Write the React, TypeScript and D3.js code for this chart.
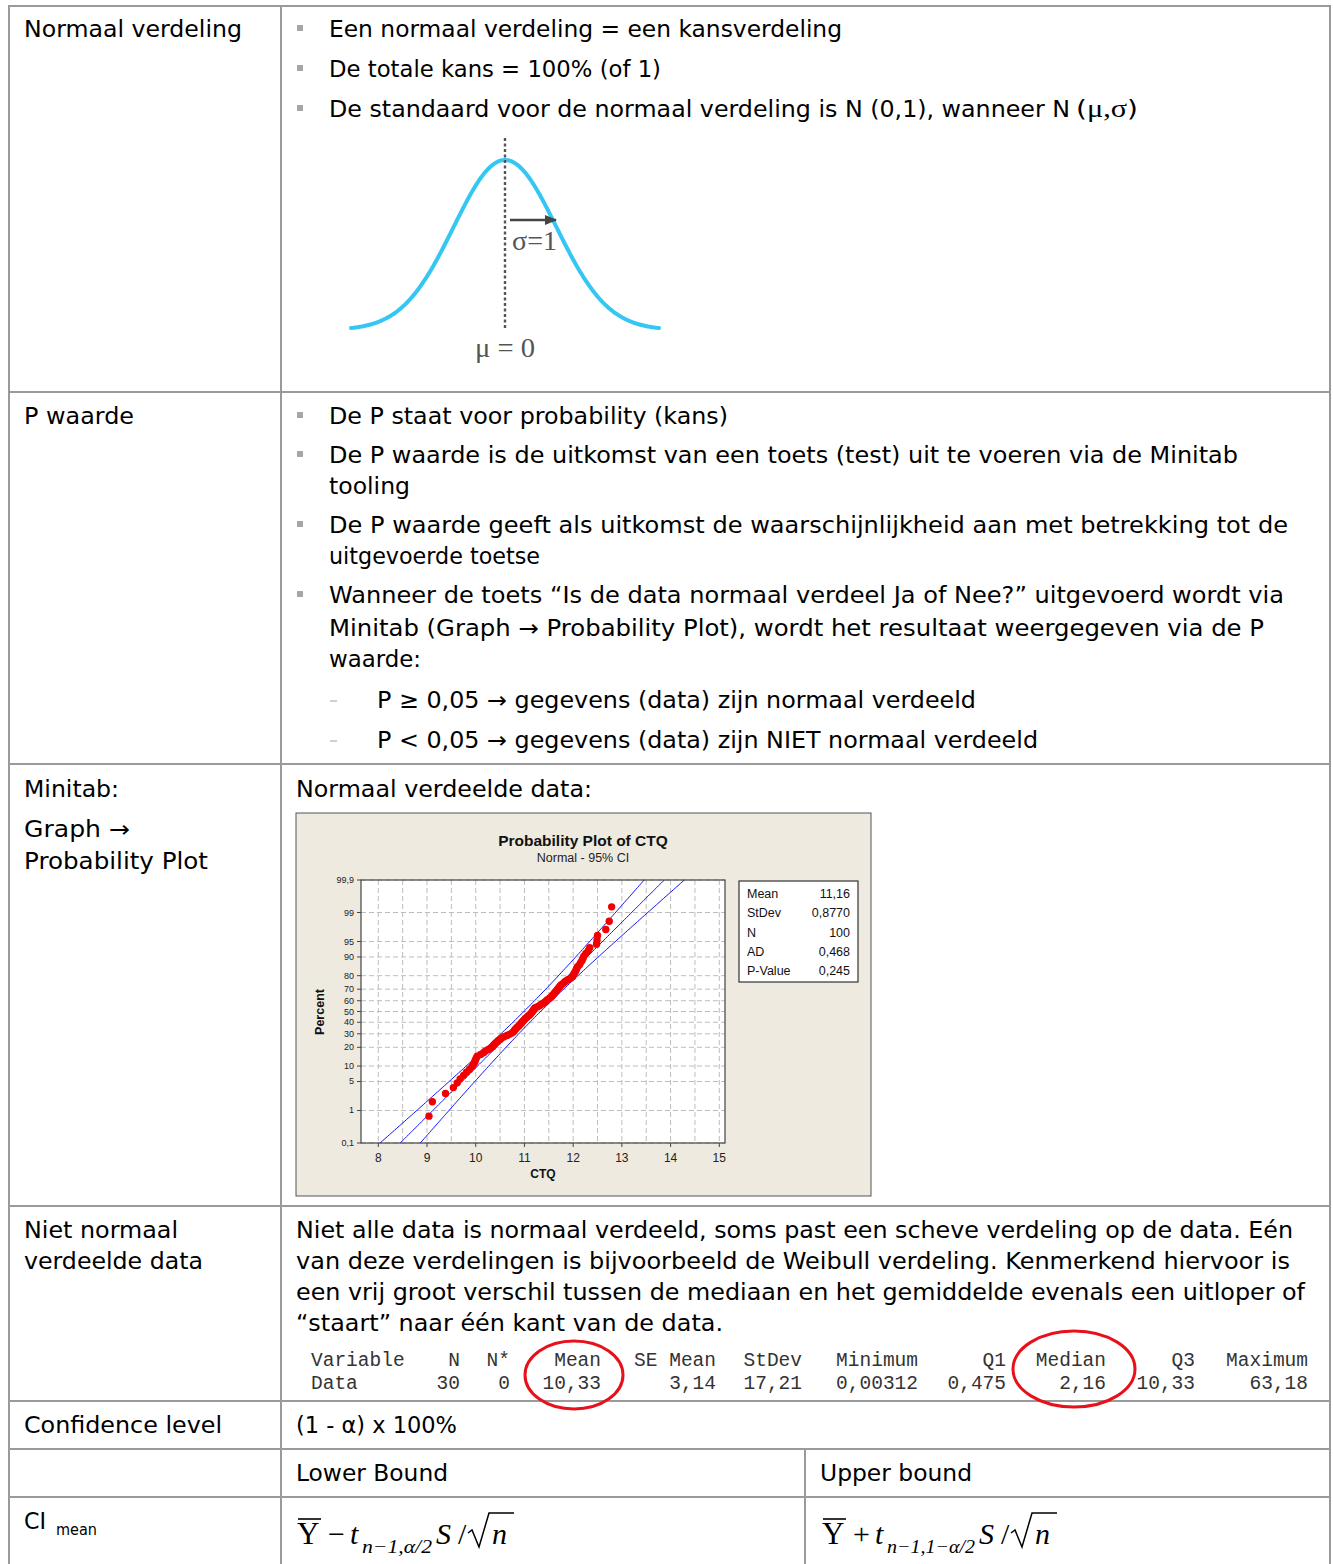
import React from 'react';
import * as d3 from 'd3';

// ---------------- DATA ----------------
const normalBullets = [
  'Een normaal verdeling = een kansverdeling',
  'De totale kans = 100% (of 1)',
  'De standaard voor de normaal verdeling is N (0,1), wanneer N',
];
const pBulletLines = [
  'De P staat voor probability (kans)',
  'De P waarde is de uitkomst van een toets (test) uit te voeren via de Minitab',
  'tooling',
  'De P waarde geeft als uitkomst de waarschijnlijkheid aan met betrekking tot de',
  'uitgevoerde toetse',
  'Wanneer de toets “Is de data normaal verdeel Ja of Nee?” uitgevoerd wordt via',
  'Minitab (Graph → Probability Plot), wordt het resultaat weergegeven via de P',
  'waarde:',
];
const pRules = [
  'P ≥ 0,05 → gegevens (data) zijn normaal verdeeld',
  'P < 0,05 → gegevens (data) zijn NIET normaal verdeeld',
];
const weibullText = [
  'Niet alle data is normaal verdeeld, soms past een scheve verdeling op de data. Eén',
  'van deze verdelingen is bijvoorbeeld de Weibull verdeling. Kenmerkend hiervoor is',
  'een vrij groot verschil tussen de mediaan en het gemiddelde evenals een uitloper of',
  '“staart” naar één kant van de data.',
];
const statHeaders = ['Variable', 'N', 'N*', 'Mean', 'SE Mean', 'StDev', 'Minimum', 'Q1', 'Median', 'Q3', 'Maximum'];
const statValues = ['Data', '30', '0', '10,33', '3,14', '17,21', '0,00312', '0,475', '2,16', '10,33', '63,18'];

// Probability plot (CTQ, sorted)
const ctqValues = [
  9.04, 9.11, 9.38, 9.54, 9.62, 9.68, 9.75, 9.81, 9.87, 9.92,
  9.95, 9.98, 9.99, 10.01, 10.03, 10.10, 10.16, 10.20, 10.26, 10.31,
  10.35, 10.37, 10.40, 10.43, 10.46, 10.50, 10.53, 10.58, 10.64, 10.69,
  10.74, 10.77, 10.79, 10.81, 10.83, 10.85, 10.88, 10.90, 10.92, 10.94,
  10.96, 10.98, 11.00, 11.02, 11.05, 11.07, 11.10, 11.12, 11.14, 11.16,
  11.17, 11.19, 11.20, 11.22, 11.27, 11.31, 11.34, 11.38, 11.41, 11.44,
  11.46, 11.49, 11.52, 11.55, 11.57, 11.59, 11.61, 11.63, 11.65, 11.67,
  11.69, 11.71, 11.73, 11.75, 11.79, 11.82, 11.85, 11.90, 11.95, 11.99,
  12.00, 12.02, 12.04, 12.06, 12.07, 12.09, 12.13, 12.15, 12.18, 12.20,
  12.22, 12.26, 12.31, 12.34, 12.48, 12.49, 12.50, 12.67, 12.74, 12.79,
];
const fitMean = 11.16;
const fitStDev = 0.877;
const fitN = 100;
const legendLabels = ['Mean', 'StDev', 'N', 'AD', 'P-Value'];
const legendValues = ['11,16', '0,8770', '100', '0,468', '0,245'];
const xTicks = [8, 9, 10, 11, 12, 13, 14, 15];
const xGrid = [8, 8.5, 9, 9.5, 10, 10.5, 11, 11.5, 12, 12.5, 13, 13.5, 14, 14.5, 15];
const yTickPercents = [0.1, 1, 5, 10, 20, 30, 40, 50, 60, 70, 80, 90, 95, 99, 99.9];

// ---------------- HELPERS ----------------
function probit(p: number): number {
  const a = [-3.969683028665376e1, 2.209460984245205e2, -2.759285104469687e2, 1.38357751867269e2, -3.066479806614716e1, 2.506628277459239];
  const b = [-5.447609879822406e1, 1.615858368580409e2, -1.556989798598866e2, 6.680131188771972e1, -1.328068155288572e1];
  const c = [-7.784894002430293e-3, -3.223964580411365e-1, -2.400758277161838, -2.549732539343734, 4.374664141464968, 2.938163982698783];
  const d = [7.784695709041462e-3, 3.224671290700398e-1, 2.445134137142996, 3.754408661907416];
  const pl = 0.02425;
  if (p < pl) {
    const q = Math.sqrt(-2 * Math.log(p));
    return (((((c[0] * q + c[1]) * q + c[2]) * q + c[3]) * q + c[4]) * q + c[5]) / ((((d[0] * q + d[1]) * q + d[2]) * q + d[3]) * q + 1);
  }
  if (p <= 1 - pl) {
    const q = p - 0.5, r = q * q;
    return ((((((a[0] * r + a[1]) * r + a[2]) * r + a[3]) * r + a[4]) * r + a[5]) * q) / (((((b[0] * r + b[1]) * r + b[2]) * r + b[3]) * r + b[4]) * r + 1);
  }
  const q = Math.sqrt(-2 * Math.log(1 - p));
  return -(((((c[0] * q + c[1]) * q + c[2]) * q + c[3]) * q + c[4]) * q + c[5]) / ((((d[0] * q + d[1]) * q + d[2]) * q + d[3]) * q + 1);
}

const SANS = "'DejaVu Sans', Verdana, sans-serif";
const ARIAL = "'Liberation Sans', Arial, sans-serif";
const SERIF = "'Liberation Serif', 'Times New Roman', serif";
const MONO = "'Liberation Mono', 'Courier New', monospace";

function T({ x, y, w, size = 23, children, weight }: any) {
  return (
    <text x={x} y={y} fontFamily={SANS} fontSize={size} fill="#000" fontWeight={weight}
      textLength={w} lengthAdjust={w ? 'spacingAndGlyphs' : undefined}>
      {children}
    </text>
  );
}

function Bullet({ x, y }: any) {
  return <rect x={x} y={y - 12} width={6} height={6} fill="#a6a6a6" />;
}

function NormalCurve() {
  const xs = d3.scaleLinear().domain([-3, 3]).range([351, 659]);
  const ys = d3.scaleLinear().domain([0, 1 / Math.sqrt(2 * Math.PI)]).range([330, 160]);
  const pdf = (z: number) => Math.exp(-z * z / 2) / Math.sqrt(2 * Math.PI);
  const zs = d3.range(-3, 3.0001, 0.02);
  const line = d3.line<number>().x(z => xs(z)).y(z => ys(pdf(z)));
  return (
    <g>
      <path d={line(zs) || ''} fill="none" stroke="#35c7f4" strokeWidth={4} strokeLinecap="round" />
      <line x1={xs(0)} x2={xs(0)} y1={138} y2={328} stroke="#555" strokeWidth={2.4} strokeDasharray="3,2.5" />
      <defs>
        <marker id="arr" markerWidth="12" markerHeight="10" refX="11" refY="5" orient="auto" markerUnits="userSpaceOnUse">
          <path d="M0,0 L12,5 L0,10 Z" fill="#444" />
        </marker>
      </defs>
      <line x1={510} x2={556} y1={220} y2={220} stroke="#444" strokeWidth={2.6} markerEnd="url(#arr)" />
      <text x={512} y={250} fontFamily={SERIF} fontSize={27} fill="#555" textLength={45} lengthAdjust="spacingAndGlyphs">σ=1</text>
      <text x={475} y={357} fontFamily={SERIF} fontSize={27} fill="#555" textLength={60} lengthAdjust="spacingAndGlyphs">μ = 0</text>
    </g>
  );
}

function ProbPlot() {
  const px0 = 361, px1 = 725, py0 = 880, py1 = 1143;
  const xS = d3.scaleLinear().domain([8, 15]).range([378.3, 719.3]);
  const zLo = probit(0.001), zHi = probit(0.999);
  const yS = d3.scaleLinear().domain([zLo, zHi]).range([py1, py0]);
  const n = ctqValues.length;
  const pts = ctqValues.map((v, i) => ({ x: xS(v), y: yS(probit((i + 1 - 0.3) / (n + 0.4))) }));
  const zs = d3.range(zLo - 0.6, zHi + 0.6, 0.05);
  const se = 1.96 * fitStDev / Math.sqrt(fitN);
  const mk = (k: number) => d3.line<number>()
    .x(z => xS(fitMean + fitStDev * z + k * se * Math.sqrt(1 + z * z / 2)))
    .y(z => yS(z))(zs) || '';
  const fmt = (p: number) => String(p).replace('.', ',');
  return (
    <g>
      <rect x={296} y={813} width={575} height={383} fill="#eeeae0" stroke="#555" strokeWidth={1} />
      <text x={583} y={846} textAnchor="middle" fontFamily={ARIAL} fontWeight="bold" fontSize={15.5} fill="#111">Probability Plot of CTQ</text>
      <text x={583} y={862} textAnchor="middle" fontFamily={ARIAL} fontSize={12.5} fill="#222">Normal - 95% CI</text>
      <rect x={px0} y={py0} width={px1 - px0} height={py1 - py0} fill="#fff" />
      <defs>
        <clipPath id="pclip"><rect x={px0} y={py0} width={px1 - px0} height={py1 - py0} /></clipPath>
      </defs>
      {xGrid.map(v => (
        <line key={'gx' + v} x1={xS(v)} x2={xS(v)} y1={py0} y2={py1} stroke="#bdbdbd" strokeWidth={1} strokeDasharray="5,3" />
      ))}
      {yTickPercents.map(p => (
        <line key={'gy' + p} x1={px0} x2={px1} y1={yS(probit(p / 100))} y2={yS(probit(p / 100))} stroke="#bdbdbd" strokeWidth={1} strokeDasharray="5,3" />
      ))}
      <g clipPath="url(#pclip)">
        {[-1, 0, 1].map(k => (
          <path key={'l' + k} d={mk(k)} fill="none" stroke="#1414ff" strokeWidth={1} />
        ))}
        {pts.map((p, i) => <circle key={'p' + i} cx={p.x} cy={p.y} r={3.7} fill="#f20000" />)}
      </g>
      <rect x={px0} y={py0} width={px1 - px0} height={py1 - py0} fill="none" stroke="#444" strokeWidth={1.2} />
      {yTickPercents.map(p => {
        const y = yS(probit(p / 100));
        return (
          <g key={'ty' + p}>
            <line x1={px0 - 4} x2={px0} y1={y} y2={y} stroke="#444" />
            <text x={354} y={y + 3} textAnchor="end" fontFamily={ARIAL} fontSize={9} fill="#222">{fmt(p)}</text>
          </g>
        );
      })}
      {xTicks.map(v => (
        <g key={'tx' + v}>
          <line x1={xS(v)} x2={xS(v)} y1={py1} y2={py1 + 4} stroke="#444" />
          <text x={xS(v)} y={1162} textAnchor="middle" fontFamily={ARIAL} fontSize={12} fill="#222">{v}</text>
        </g>
      ))}
      <text x={543} y={1178} textAnchor="middle" fontFamily={ARIAL} fontWeight="bold" fontSize={12} fill="#111">CTQ</text>
      <text transform="translate(324,1012) rotate(-90)" textAnchor="middle" fontFamily={ARIAL} fontWeight="bold" fontSize={12.5} fill="#111">Percent</text>
      <rect x={739} y={881} width={119} height={101} fill="#fff" stroke="#333" strokeWidth={1.2} />
      {legendLabels.map((l, i) => (
        <g key={'lg' + i}>
          <text x={747} y={898 + i * 19.3} fontFamily={ARIAL} fontSize={12.5} fill="#111">{l}</text>
          <text x={850} y={898 + i * 19.3} textAnchor="end" fontFamily={ARIAL} fontSize={12.5} fill="#111">{legendValues[i]}</text>
        </g>
      ))}
    </g>
  );
}

function StatsBlock() {
  const cols: [number, string][] = [
    [311, 'start'], [460, 'end'], [510, 'end'], [601, 'end'], [716, 'end'], [802, 'end'],
    [918, 'end'], [1006, 'end'], [1106, 'end'], [1195, 'end'], [1308, 'end'],
  ];
  return (
    <g fontFamily={MONO} fontSize={19.5} fill="#333">
      {statHeaders.map((h, i) => (
        <text key={'h' + i} x={cols[i][0]} y={1366} textAnchor={cols[i][1]}>{h}</text>
      ))}
      {statValues.map((v, i) => (
        <text key={'v' + i} x={cols[i][0]} y={1389} textAnchor={cols[i][1]}>{v}</text>
      ))}
      <ellipse cx={574} cy={1375} rx={49} ry={34} fill="none" stroke="#e8101a" strokeWidth={3} />
      <ellipse cx={1074} cy={1369} rx={61} ry={38} fill="none" stroke="#e8101a" strokeWidth={3} />
    </g>
  );
}

function Formula({ x0, sign, sub, subW }: any) {
  const tX = x0 + 53;
  const subX = x0 + 65;
  const sX = subX + subW + 4;
  const slashX = sX + 22;
  const rX = slashX + 13;
  return (
    <g fill="#000">
      <text x={x0} y={1544} fontFamily={SERIF} fontSize={31}>Y</text>
      <line x1={x0 + 1} x2={x0 + 24} y1={1519} y2={1519} stroke="#000" strokeWidth={1.6} />
      <text x={x0 + 31} y={1544} fontFamily={SERIF} fontSize={30}>{sign}</text>
      <text x={tX} y={1544} fontFamily={SERIF} fontStyle="italic" fontSize={30}>t</text>
      <text x={subX} y={1553} fontFamily={SERIF} fontStyle="italic" fontSize={18.5} textLength={subW} lengthAdjust="spacingAndGlyphs">{sub}</text>
      <text x={sX} y={1544} fontFamily={SERIF} fontStyle="italic" fontSize={30}>S</text>
      <text x={slashX} y={1544} fontFamily={SERIF} fontSize={30}>/</text>
      <path d={`M${rX - 3},${1533} L${rX + 1},${1530} L${rX + 8},${1547} L${rX + 18},${1513} L${rX + 43},${1513}`} fill="none" stroke="#000" strokeWidth={1.5} />
      <text x={rX + 21} y={1544} fontFamily={SERIF} fontStyle="italic" fontSize={30}>n</text>
    </g>
  );
}

export default function App() {
  const rowsY = [6, 392, 764, 1206, 1401, 1449, 1497];
  const B = '#9a9a9a';
  const n1 = [[37, 842], [77, 661], [117, 1070]];
  const p2 = [[424, 728, true], [463, 1238, true], [494, 410, false], [533, 1288, true], [564, 540, false], [603, 1284, true], [636, 1264, false], [667, 421, false]];
  const r2 = [[708, 976], [748, 1038]];
  const w4 = [[1238, 1293], [1269, 1290], [1300, 1305], [1331, 723]];
  return (
    <svg width={1333} height={1564} style={{ position: 'absolute', left: 0, top: 0, background: '#fff' }}>
      <rect x={0} y={0} width={1333} height={1564} fill="#fff" />
      {rowsY.map(y => <line key={'r' + y} x1={9} x2={1330} y1={y} y2={y} stroke={B} strokeWidth={2} />)}
      <line x1={9} x2={9} y1={5} y2={1570} stroke={B} strokeWidth={2} />
      <line x1={281} x2={281} y1={5} y2={1570} stroke={B} strokeWidth={2} />
      <line x1={1330} x2={1330} y1={5} y2={1570} stroke={B} strokeWidth={2} />
      <line x1={805} x2={805} y1={1449} y2={1570} stroke={B} strokeWidth={2} />

      {/* Row 1 */}
      <T x={24} y={37} w={218}>Normaal verdeling</T>
      {normalBullets.map((t, i) => (
        <g key={'nb' + i}>
          <Bullet x={297} y={n1[i][0]} />
          <T x={329} y={n1[i][0]} w={n1[i][1] - 329}>{t}</T>
        </g>
      ))}
      <text x={1076} y={117} fontFamily={SANS} fontSize={23} textLength={62} lengthAdjust="spacingAndGlyphs">
        (<tspan fontFamily={SERIF} fontSize={25}>μ,σ</tspan>)
      </text>
      <NormalCurve />

      {/* Row 2 */}
      <T x={24} y={424} w={110}>P waarde</T>
      {pBulletLines.map((t, i) => (
        <g key={'pb' + i}>
          {p2[i][2] ? <Bullet x={297} y={p2[i][0]} /> : null}
          <T x={329} y={p2[i][0]} w={(p2[i][1] as number) - 329}>{t}</T>
        </g>
      ))}
      {pRules.map((t, i) => (
        <g key={'pr' + i}>
          <line x1={330} x2={337} y1={r2[i][0] - 7} y2={r2[i][0] - 7} stroke="#b0b0b0" strokeWidth={1.2} />
          <T x={377} y={r2[i][0]} w={r2[i][1] - 377}>{t}</T>
        </g>
      ))}

      {/* Row 3 */}
      <T x={24} y={797} w={95}>Minitab:</T>
      <T x={24} y={837} w={106}>Graph →</T>
      <T x={24} y={869} w={184}>Probability Plot</T>
      <T x={296} y={797} w={296}>Normaal verdeelde data:</T>
      <ProbPlot />

      {/* Row 4 */}
      <T x={24} y={1238} w={154}>Niet normaal</T>
      <T x={24} y={1269} w={179}>verdeelde data</T>
      {weibullText.map((t, i) => (
        <T key={'w' + i} x={296} y={w4[i][0]} w={w4[i][1] - 296}>{t}</T>
      ))}
      <StatsBlock />

      {/* Row 5 */}
      <T x={24} y={1433} w={198}>Confidence level</T>
      <T x={296} y={1433} w={161}>(1 - α) x 100%</T>

      {/* Row 6 */}
      <T x={296} y={1481} w={152}>Lower Bound</T>
      <T x={820} y={1481} w={152}>Upper bound</T>

      {/* Row 7 */}
      <T x={24} y={1529} w={22}>CI</T>
      <text x={56} y={1535} fontFamily={SANS} fontSize={15} textLength={41} lengthAdjust="spacingAndGlyphs">mean</text>
      <Formula x0={297} sign="−" sub="n−1,α/2" subW={70} />
      <Formula x0={822} sign="+" sub="n−1,1−α/2" subW={88} />
    </svg>
  );
}
